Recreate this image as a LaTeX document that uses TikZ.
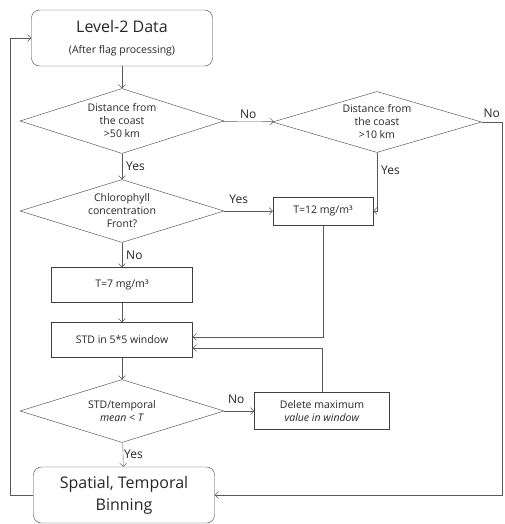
\documentclass[tikz,border=0pt]{standalone}
\usepackage{fontspec}
\setmainfont{Open Sans}
\usetikzlibrary{shapes, calc, arrows.meta, positioning}

\begin{document}
\begin{tikzpicture}[->,>={Straight Barb[length=3.5pt,width=7pt]},x=1pt,y=-1pt,thin,black!65,text=black!85]
	\tikzset{every node/.style={font=\fontsize{10.5}{13}\selectfont}}
	\tikzset{term/.style={draw=black!75, rounded corners=8pt, align=center, minimum width=181pt, minimum height=56pt, inner sep=1pt}}
	\tikzset{check/.style={draw=black!75, diamond, aspect=3.2, inner sep=0pt, align=center, minimum width=204pt, minimum height=63pt}}
	\tikzset{proc/.style={draw=black!75, rectangle, align=center, inner sep=1pt}}
	\tikzset{lbl/.style={font=\fontsize{12}{14}\selectfont, inner sep=1pt}}
	\useasboundingbox (0,0) rectangle (504,524);
	\node[term, font=\fontsize{16}{19}\selectfont] (lvl) at (122,38) {Level-2 Data\\[2pt]{\fontsize{10.5}{13}\selectfont (After flag processing)}};
	\node[check, minimum height=65pt] (d1) at (122,121) {Distance from\\the coast\\>50 km};
	\node[check, minimum width=209pt, minimum height=61pt] (d2) at (377,122) {Distance from\\the coast\\>10 km};
	\node[check] (d3) at (122,211) {Chlorophyll\\concentration\\Front?};
	\node[proc, minimum width=100pt, minimum height=28pt] (t12) at (323,211) {T=12 mg/m³};
	\node[proc, minimum width=141pt, minimum height=35pt] (t7) at (122,285) {T=7 mg/m³};
	\node[proc, minimum width=141pt, minimum height=35pt] (std) at (122,340) {STD in 5*5 window};
	\node[check] (d4) at (122,411) {STD/temporal\\\textit{mean < T}};
	\node[proc, minimum width=135pt, minimum height=37pt] (del) at (322,411) {Delete maximum\\\textit{value in window}};
	\node[term, font=\fontsize{16}{22}\selectfont] (bin) at (124,495) {Spatial, Temporal\\Binning};
	\path
		(lvl)
			edge (d1)
		(d1)
			edge node [lbl, above, yshift=2pt] {No} (d2)
			edge node [lbl, right, xshift=3pt] {Yes} (d3)
		(d3)
			edge node [lbl, above, pos=0.3, yshift=6pt] {Yes} (t12)
			edge node [lbl, right, xshift=3pt] {No} (t7)
		(t7)
			edge (std)
		(std)
			edge (d4)
		(d4)
			edge node [lbl, above, pos=0.4, yshift=6pt] {No} (del)
			edge node [lbl, right] {Yes} (bin);
	\draw (d2.south) |- (t12.east) node [lbl, right, pos=0.15, xshift=3pt] {Yes};
	\draw (d2.east) -- ++(20,0) node [lbl, midway, above, yshift=3pt] {No} |- (bin.east);
	\draw (t12.south) |- ($(std.east)+(0,-3)$);
	\draw (del.north) |- ($(std.east)+(0,8)$);
	\draw (bin.west) -- ++(-23,0) |- (lvl.west);
\end{tikzpicture}
\end{document}
